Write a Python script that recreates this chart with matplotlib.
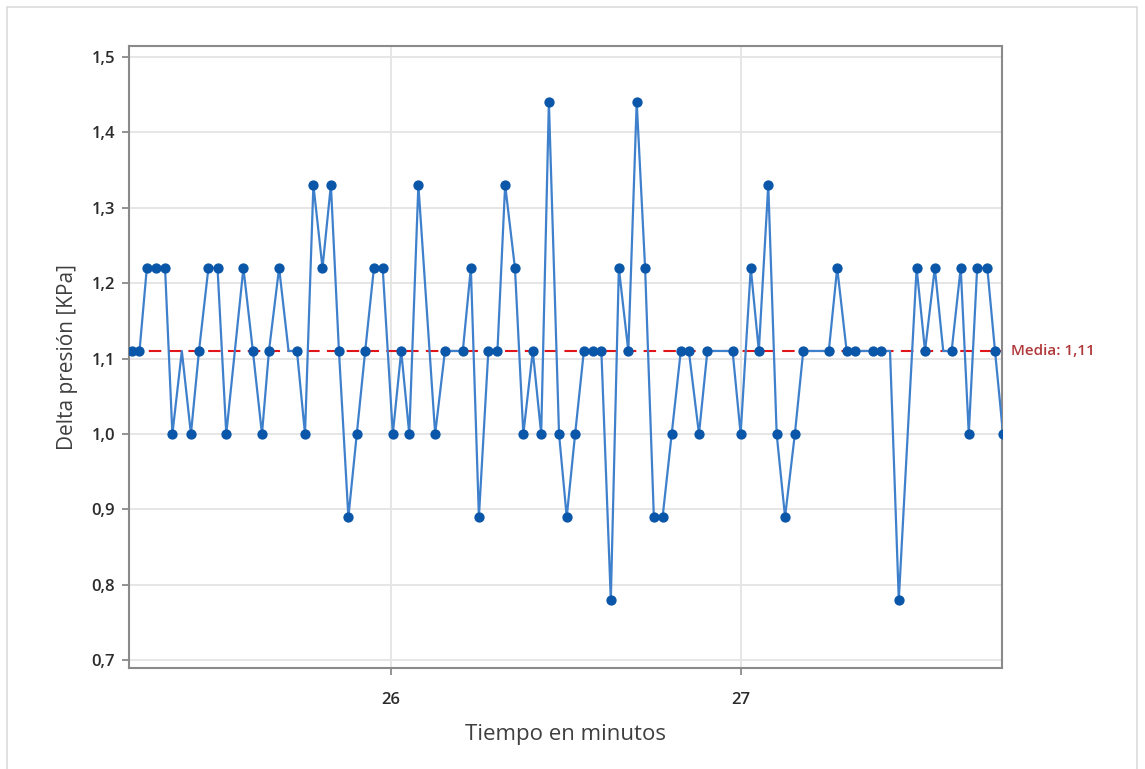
import matplotlib
matplotlib.use("Agg")
import matplotlib.pyplot as plt
from matplotlib.ticker import FixedLocator, FuncFormatter
from matplotlib.patches import Rectangle

plt.rcParams['font.family'] = ['Open Sans', 'DejaVu Sans']

# Tiempo de cada lectura (minutos) y delta de presión medida (KPa)
tiempo = [
    25.259, 25.281, 25.302, 25.329, 25.354, 25.375, 25.402, 25.428, 25.451, 25.478,
    25.504, 25.529, 25.578, 25.605, 25.631, 25.651, 25.680, 25.707, 25.731, 25.754,
    25.778, 25.804, 25.828, 25.851, 25.878, 25.902, 25.926, 25.951, 25.976, 26.005,
    26.029, 26.052, 26.078, 26.126, 26.154, 26.205, 26.228, 26.251, 26.278, 26.304,
    26.326, 26.354, 26.378, 26.405, 26.429, 26.451, 26.480, 26.502, 26.526, 26.551,
    26.576, 26.601, 26.628, 26.651, 26.678, 26.702, 26.726, 26.751, 26.776, 26.802,
    26.828, 26.851, 26.880, 26.904, 26.976, 26.999, 27.028, 27.051, 27.078, 27.102,
    27.126, 27.154, 27.178, 27.251, 27.275, 27.302, 27.326, 27.376, 27.399, 27.426,
    27.451, 27.502, 27.526, 27.554, 27.578, 27.602, 27.628, 27.651, 27.675, 27.704,
    27.726, 27.749,
]
delta_presion = [
    1.11, 1.11, 1.22, 1.22, 1.22, 1.00, 1.11, 1.00, 1.11, 1.22,
    1.22, 1.00, 1.22, 1.11, 1.00, 1.11, 1.22, 1.11, 1.11, 1.00,
    1.33, 1.22, 1.33, 1.11, 0.89, 1.00, 1.11, 1.22, 1.22, 1.00,
    1.11, 1.00, 1.33, 1.00, 1.11, 1.11, 1.22, 0.89, 1.11, 1.11,
    1.33, 1.22, 1.00, 1.11, 1.00, 1.44, 1.00, 0.89, 1.00, 1.11,
    1.11, 1.11, 0.78, 1.22, 1.11, 1.44, 1.22, 0.89, 0.89, 1.00,
    1.11, 1.11, 1.00, 1.11, 1.11, 1.00, 1.22, 1.11, 1.33, 1.00,
    0.89, 1.00, 1.11, 1.11, 1.22, 1.11, 1.11, 1.11, 1.11, 1.11,
    0.78, 1.22, 1.11, 1.22, 1.11, 1.11, 1.22, 1.00, 1.22, 1.22,
    1.11, 1.00,
]
# Lecturas dibujadas sólo como vértice de la línea, sin símbolo
sin_simbolo = [6, 17, 79, 84]

media = 1.11
media_texto = "Media: 1,11"

ticks_x = [26, 27]
ticks_y = [0.7, 0.8, 0.9, 1.0, 1.1, 1.2, 1.3, 1.4, 1.5]
titulo_x = "Tiempo en minutos"
titulo_y = "Delta presión [KPa]"

W, H = 1145, 769
fig = plt.figure(figsize=(W / 100, H / 100), dpi=100)
fig.patch.set_facecolor("white")

# Marco exterior del gráfico
fig.add_artist(Rectangle((7 / W, -0.01), (1137 - 7) / W, 1.01 - 7 / H,
                         transform=fig.transFigure, fill=False,
                         edgecolor="#dcdcdc", linewidth=1.2))

ax = fig.add_axes([129 / W, 1 - 668 / H, (1002 - 129) / W, (668 - 46) / H])

con_simbolo = [i for i in range(len(tiempo)) if i not in sin_simbolo]
ax.plot(tiempo, delta_presion, color="#3f80cc", linewidth=1.6,
        marker="o", markersize=6.4, markerfacecolor="#0a56a8",
        markeredgecolor="#0a56a8", markevery=con_simbolo, zorder=3,
        clip_on=True)

ax.axhline(media, color="#e0161b", linewidth=1.5, dashes=(6, 3.5), zorder=2)
ax.text(1.01, media, media_texto, transform=ax.get_yaxis_transform(),
        color="#b0383a", fontsize=11, fontweight=600, va="center", ha="left")

ax.set_xlim(25.251, 27.746)
ax.set_ylim(0.690, 1.514)

ax.xaxis.set_major_locator(FixedLocator(ticks_x))
ax.yaxis.set_major_locator(FixedLocator(ticks_y))
ax.yaxis.set_major_formatter(FuncFormatter(lambda v, p: f"{v:.1f}".replace(".", ",")))
ax.xaxis.set_major_formatter(FuncFormatter(lambda v, p: f"{v:.0f}"))

ax.grid(True, color="#e4e4e4", linewidth=1.3, zorder=0)
ax.set_axisbelow(True)

for s in ax.spines.values():
    s.set_color("#8a8a8a")
    s.set_linewidth(1.5)

ax.tick_params(axis="both", colors="#8a8a8a", length=5, width=1.3,
               labelcolor="#2b2b2b", labelsize=12)
ax.tick_params(axis="x", pad=12)
ax.tick_params(axis="y", pad=5)
for lbl in ax.get_xticklabels() + ax.get_yticklabels():
    lbl.set_fontweight(600)

ax.set_xlabel(titulo_x, fontsize=16, color="#3f3f3f", labelpad=12,
              fontweight=500)
ax.set_ylabel(titulo_y, fontsize=15, color="#3f3f3f", labelpad=10,
              fontweight=500)

fig.savefig("out.png", dpi=100, facecolor="white")
